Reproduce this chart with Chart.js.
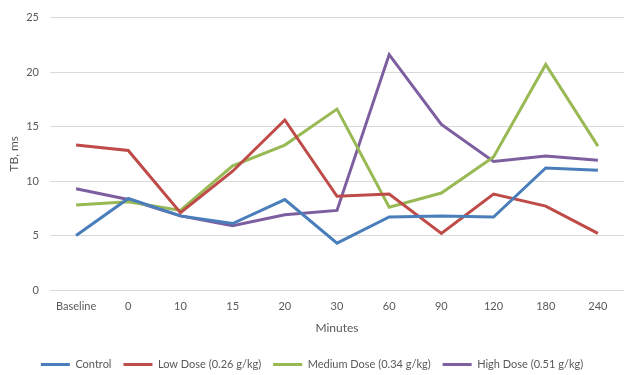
<!DOCTYPE html>
<html>
<head>
<meta charset="utf-8">
<script src="https://cdn.jsdelivr.net/npm/chart.js@4"></script>
<style>
  html, body { margin: 0; padding: 0; background: #fff; }
  #wrap { width: 624px; height: 375px; }
</style>
</head>
<body>
<div id="wrap"><canvas id="chart"></canvas></div>
<script>
const minutes = ['Baseline', '0', '10', '15', '20', '30', '60', '90', '120', '180', '240'];
const control = [5.0, 8.4, 6.8, 6.1, 8.3, 4.3, 6.7, 6.8, 6.7, 11.2, 11.0];
const lowDose = [13.3, 12.8, 7.1, 10.9, 15.6, 8.6, 8.8, 5.2, 8.8, 7.7, 5.2];
const mediumDose = [7.8, 8.1, 7.3, 11.4, 13.3, 16.6, 7.6, 8.9, 12.2, 20.7, 13.2];
const highDose = [9.3, 8.3, 6.8, 5.9, 6.9, 7.3, 21.6, 15.2, 11.8, 12.3, 11.9];

Chart.defaults.font.family = 'Lato, "Open Sans", sans-serif';
Chart.defaults.font.size = 11;
Chart.defaults.color = '#595959';

function line(label, data, color) {
    return {
        label: label,
        data: data,
        borderColor: color,
        backgroundColor: color,
        borderWidth: 3,
        pointRadius: 0,
        fill: false,
        tension: 0
    };
}

const ctx = document.getElementById('chart').getContext('2d');
const chart = new Chart(ctx, {
    type: 'line',
    data: {
        labels: minutes,
        datasets: [
            line('Control', control, '#4a7ebb'),
            line('Low Dose (0.26 g/kg)', lowDose, '#be4b48'),
            line('Medium Dose (0.34 g/kg)', mediumDose, '#98b954'),
            line('High Dose (0.51 g/kg)', highDose, '#7d5fa0')
        ]
    },
    options: {
        responsive: true,
        maintainAspectRatio: false,
        animation: false,
        layout: { padding: { left: 0, right: 0, top: 10, bottom: 0 } },
        plugins: {
            legend: {
                position: 'bottom',
                maxHeight: 28,
                labels: {
                    usePointStyle: true,
                    pointStyle: 'line',
                    pointStyleWidth: 29,
                    boxWidth: 29,
                    padding: 12,
                    font: { size: 11 }
                }
            },
            tooltip: { enabled: false }
        },
        scales: {
            x: {
                offset: true,
                afterFit: (scale) => { scale.height = 57; },
                grid: { display: false, drawTicks: false },
                border: { display: false },
                ticks: { padding: 10, maxRotation: 0 },
                title: { display: true, text: 'Minutes', font: { size: 12 }, padding: { top: 4, bottom: 12 } }
            },
            y: {
                min: 0,
                max: 25,
                afterFit: (scale) => { scale.width = 50; },
                ticks: { stepSize: 5, padding: 11 },
                grid: { color: '#d9d9d9', drawTicks: false },
                border: { display: false },
                title: { display: true, text: 'TB, ms', font: { size: 12 }, padding: { top: 7, bottom: 4 } }
            }
        }
    }
});
</script>
</body>
</html>
